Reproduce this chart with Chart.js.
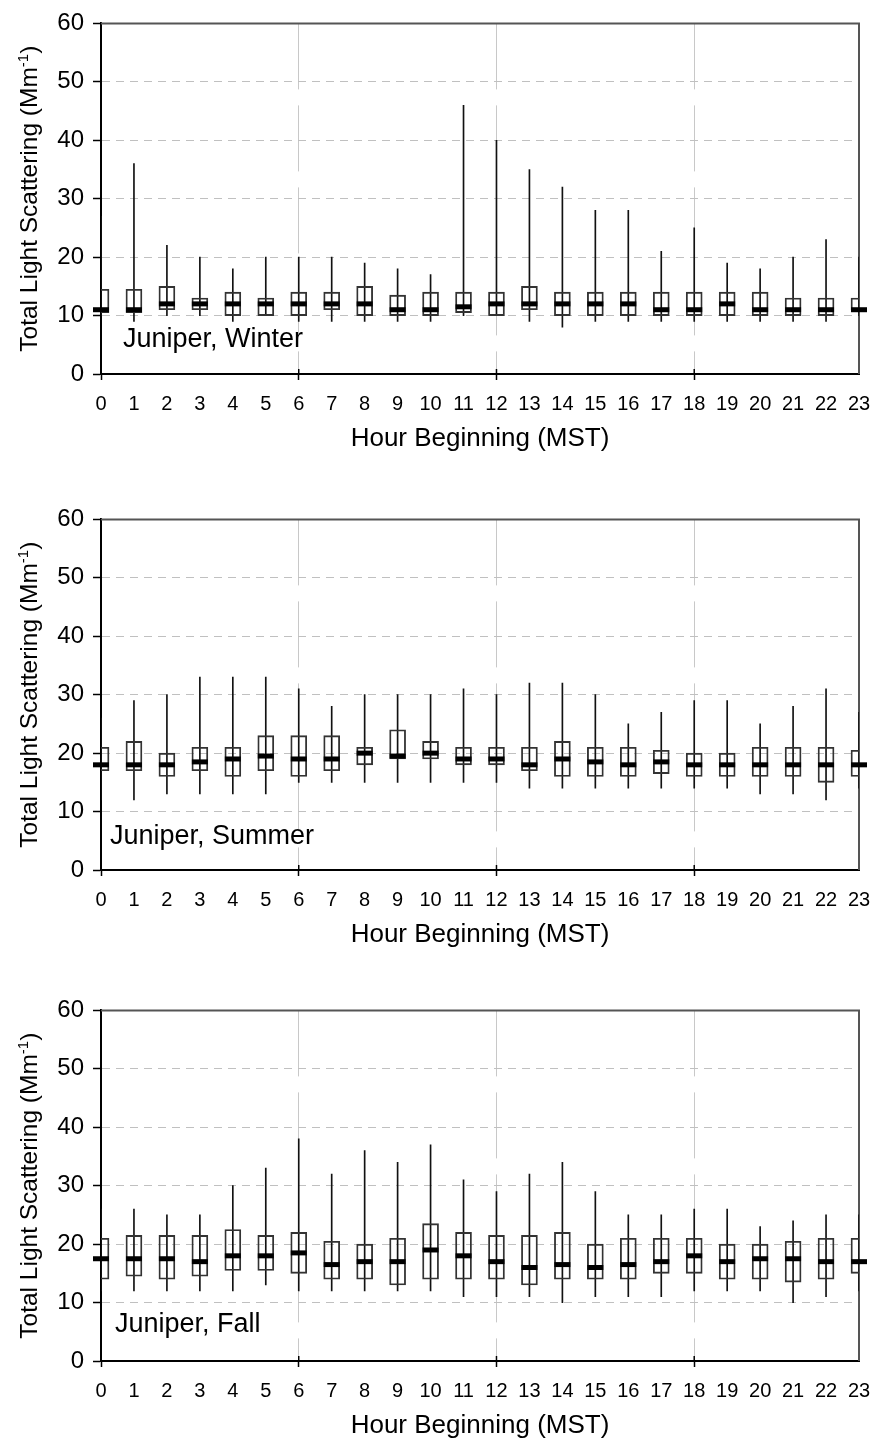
<!DOCTYPE html>
<html lang="en">
<head>
    <meta charset="UTF-8">
    <title>Juniper - Total Light Scattering by Hour</title>
    <style>
        body { margin: 0; background: #fff; }
        .panel { position: absolute; left: 0; width: 875px; height: 480px; }
    </style>
</head>
<body>

<div class="panel" style="top:0px"><canvas id="winterChart"></canvas></div>
<div class="panel" style="top:496px"><canvas id="summerChart"></canvas></div>
<div class="panel" style="top:987px"><canvas id="fallChart"></canvas></div>

<script src="https://cdn.jsdelivr.net/npm/chart.js"></script>
<script>
    // Hour axis and value axis ticks
    const hours = [0, 1, 2, 3, 4, 5, 6, 7, 8, 9, 10, 11, 12, 13, 14, 15, 16, 17, 18, 19, 20, 21, 22, 23];
    const yTicks = [0, 10, 20, 30, 40, 50, 60];

    // Winter (min, 25th, median, 75th, max)
    const winterMin = [10, 9, 10, 10, 9, 10, 9, 9, 9, 9, 9, 10, 10, 9, 8, 9, 9, 9, 9, 9, 9, 9, 9, 10];
    const winterQ1  = [10.5, 10.5, 11, 11, 10, 10, 10, 11, 10, 10, 10, 10.5, 10, 11, 10, 10, 10, 10, 10, 10, 10, 10, 10, 11];
    const winterMed = [11, 11, 12, 12, 12, 12, 12, 12, 12, 11, 11, 11.5, 12, 12, 12, 12, 12, 11, 11, 12, 11, 11, 11, 11];
    const winterQ3  = [14.5, 14.5, 15, 13, 14, 13, 14, 14, 15, 13.5, 14, 14, 14, 15, 14, 14, 14, 14, 14, 14, 14, 13, 13, 13];
    const winterMax = [27, 36, 22, 20, 18, 20, 20, 20, 19, 18, 17, 46, 40, 35, 32, 28, 28, 21, 25, 19, 18, 20, 23, 20];

    // Summer
    const summerMin = [12, 12, 13, 13, 13, 13, 15, 15, 15, 15, 15, 15, 15, 14, 14, 14, 14, 14, 14, 14, 13, 13, 12, 14];
    const summerQ1  = [17, 17, 16, 17, 16, 17, 16, 17, 18, 19, 19, 18, 18, 17, 16, 16, 16, 16.5, 16, 16, 16, 16, 15, 16];
    const summerMed = [18, 18, 18, 18.5, 19, 19.5, 19, 19, 20, 19.5, 20, 19, 19, 18, 19, 18.5, 18, 18.5, 18, 18, 18, 18, 18, 18];
    const summerQ3  = [21, 22, 20, 21, 21, 23, 23, 23, 21, 24, 22, 21, 21, 21, 22, 21, 21, 20.5, 20, 20, 21, 21, 21, 20.5];
    const summerMax = [26, 29, 30, 33, 33, 33, 31, 28, 30, 30, 30, 31, 30, 32, 32, 30, 25, 27, 29, 29, 25, 28, 31, 27];

    // Fall
    const fallMin = [12, 12, 12, 12, 12, 13, 12, 12, 12, 12, 12, 11, 11, 11, 10, 11, 11, 11, 12, 12, 12, 10, 11, 12];
    const fallQ1  = [14, 14.5, 14, 14.5, 15.5, 15.5, 15, 14, 14, 13, 14, 14, 14, 13, 14, 14, 14, 15, 15, 14, 14, 13.5, 14, 15];
    const fallMed = [17.5, 17.5, 17.5, 17, 18, 18, 18.5, 16.5, 17, 17, 19, 18, 17, 16, 16.5, 16, 16.5, 17, 18, 17, 17.5, 17.5, 17, 17];
    const fallQ3  = [21, 21.5, 21.5, 21.5, 22.5, 21.5, 22, 20.5, 20, 21, 23.5, 22, 21.5, 21.5, 22, 20, 21, 21, 21, 20, 20, 20.5, 21, 21];
    const fallMax = [26, 26, 25, 25, 30, 33, 38, 32, 36, 34, 37, 31, 29, 32, 34, 29, 25, 25, 26, 26, 23, 24, 25, 25];

    const FONT = '"Liberation Sans", Arial, sans-serif';
    const CLEAR = 'rgba(0,0,0,0)';

    // frame, tick crosses, axis titles and panel label
    const decor = {
        id: 'decor',
        beforeDatasetsDraw(chart) {
            const { ctx, chartArea: a } = chart;
            ctx.save();
            ctx.strokeStyle = '#555';
            ctx.lineWidth = 2;
            ctx.beginPath();
            ctx.moveTo(a.left, a.top);
            ctx.lineTo(a.right, a.top);
            ctx.lineTo(a.right, a.bottom);
            ctx.stroke();

            const xs = chart.scales.x;
            ctx.strokeStyle = '#000';
            ctx.lineWidth = 1.5;
            [6, 12, 18].forEach(v => {
                const px = xs.getPixelForValue(v);
                ctx.beginPath();
                ctx.moveTo(px, a.bottom - 5);
                ctx.lineTo(px, a.bottom);
                ctx.stroke();
            });
            ctx.restore();
        },
        afterDraw(chart, args, opts) {
            const { ctx, chartArea: a } = chart;
            ctx.save();
            ctx.fillStyle = '#000';
            ctx.textBaseline = 'alphabetic';

            // y title with superscript
            const main = 'Total Light Scattering (Mm';
            ctx.font = '24.5px ' + FONT;
            const w1 = ctx.measureText(main).width;
            const w3 = ctx.measureText(')').width;
            ctx.font = '15px ' + FONT;
            const w2 = ctx.measureText('-1').width;
            ctx.translate(37, (a.top + a.bottom) / 2);
            ctx.rotate(-Math.PI / 2);
            let x = -(w1 + w2 + w3) / 2;
            ctx.font = '24.5px ' + FONT;
            ctx.textAlign = 'left';
            ctx.fillText(main, x, 0);
            x += w1;
            ctx.font = '15px ' + FONT;
            ctx.fillText('-1', x, -9);
            x += w2;
            ctx.font = '24.5px ' + FONT;
            ctx.fillText(')', x, 0);
            ctx.setTransform(1, 0, 0, 1, 0, 0);

            // x title
            ctx.font = '26px ' + FONT;
            ctx.textAlign = 'center';
            ctx.fillText('Hour Beginning (MST)', (a.left + a.right) / 2, a.bottom + 72);

            // panel label
            ctx.font = '27px ' + FONT;
            ctx.textAlign = 'left';
            ctx.fillText(opts.label, a.left + opts.dx, a.bottom - opts.dy);
            ctx.restore();
        }
    };

    function crearPanel(id, label, dx, dy, mins, q1s, meds, q3s, maxs) {
        const ctx = document.getElementById(id).getContext('2d');
        return new Chart(ctx, {
            type: 'bar',
            data: {
                datasets: [{
                    // whiskers
                    type: 'bar',
                    data: hours.map((h, i) => ({ x: h, y: [mins[i], maxs[i]] })),
                    backgroundColor: '#111',
                    borderWidth: 0,
                    barThickness: 1,
                    grouped: false,
                    clip: 0,
                    order: 3
                }, {
                    // boxes
                    type: 'bar',
                    data: hours.map((h, i) => ({ x: h, y: [q1s[i], q3s[i]] })),
                    backgroundColor: CLEAR,
                    borderColor: '#333',
                    borderWidth: 1.2,
                    borderSkipped: false,
                    barThickness: 16,
                    grouped: false,
                    clip: 0,
                    order: 2
                }, {
                    // medians
                    type: 'line',
                    data: hours.map((h, i) => ({ x: h, y: meds[i] })),
                    showLine: false,
                    pointStyle: 'line',
                    pointRadius: 8,
                    pointHoverRadius: 8,
                    pointBorderWidth: 5,
                    pointBorderColor: '#000',
                    clip: false,
                    order: 1
                }]
            },
            options: {
                responsive: true,
                maintainAspectRatio: false,
                animation: false,
                events: [],
                layout: { padding: { left: 0, right: 16, top: 19, bottom: 0 } },
                plugins: {
                    legend: { display: false },
                    tooltip: { enabled: false },
                    decor: { label: label, dx: dx, dy: dy }
                },
                scales: {
                    x: {
                        type: 'linear',
                        min: 0,
                        max: 23,
                        offset: false,
                        afterBuildTicks: s => { s.ticks = hours.map(v => ({ value: v })); },
                        afterFit: s => { s.height = 106; s.paddingLeft = 0; s.paddingRight = 0; },
                        ticks: {
                            autoSkip: false,
                            maxRotation: 0,
                            color: '#000',
                            padding: 12,
                            font: { family: FONT, size: 20 },
                            callback: v => String(v)
                        },
                        grid: {
                            offset: false,
                            color: c => [6, 12, 18].includes(c.tick && c.tick.value) ? '#c8c8c8' : CLEAR,
                            lineWidth: 1,
                            tickLength: 6,
                            tickWidth: 1.5,
                            tickColor: c => (c.tick && c.tick.value % 6 === 0) ? '#000' : CLEAR,
                            tickBorderDash: []
                        },
                        border: { color: '#000', width: 2, dash: [66, 16] }
                    },
                    y: {
                        min: 0,
                        max: 60,
                        afterBuildTicks: s => { s.ticks = yTicks.map(v => ({ value: v })); },
                        afterFit: s => { s.width = 101; },
                        ticks: {
                            color: '#000',
                            padding: 9,
                            font: { family: FONT, size: 24 }
                        },
                        grid: {
                            color: c => (c.tick && c.tick.value > 0 && c.tick.value < 60) ? '#c0c0c0' : CLEAR,
                            lineWidth: 1,
                            tickLength: 8,
                            tickWidth: 1.5,
                            tickColor: '#000',
                            tickBorderDash: []
                        },
                        border: { color: '#000', width: 2, dash: [8, 6] }
                    }
                }
            },
            plugins: [decor]
        });
    }

    crearPanel('winterChart', 'Juniper, Winter', 22, 27, winterMin, winterQ1, winterMed, winterQ3, winterMax);
    crearPanel('summerChart', 'Juniper, Summer', 9, 26, summerMin, summerQ1, summerMed, summerQ3, summerMax);
    crearPanel('fallChart', 'Juniper, Fall', 14, 29, fallMin, fallQ1, fallMed, fallQ3, fallMax);
</script>

</body>
</html>
